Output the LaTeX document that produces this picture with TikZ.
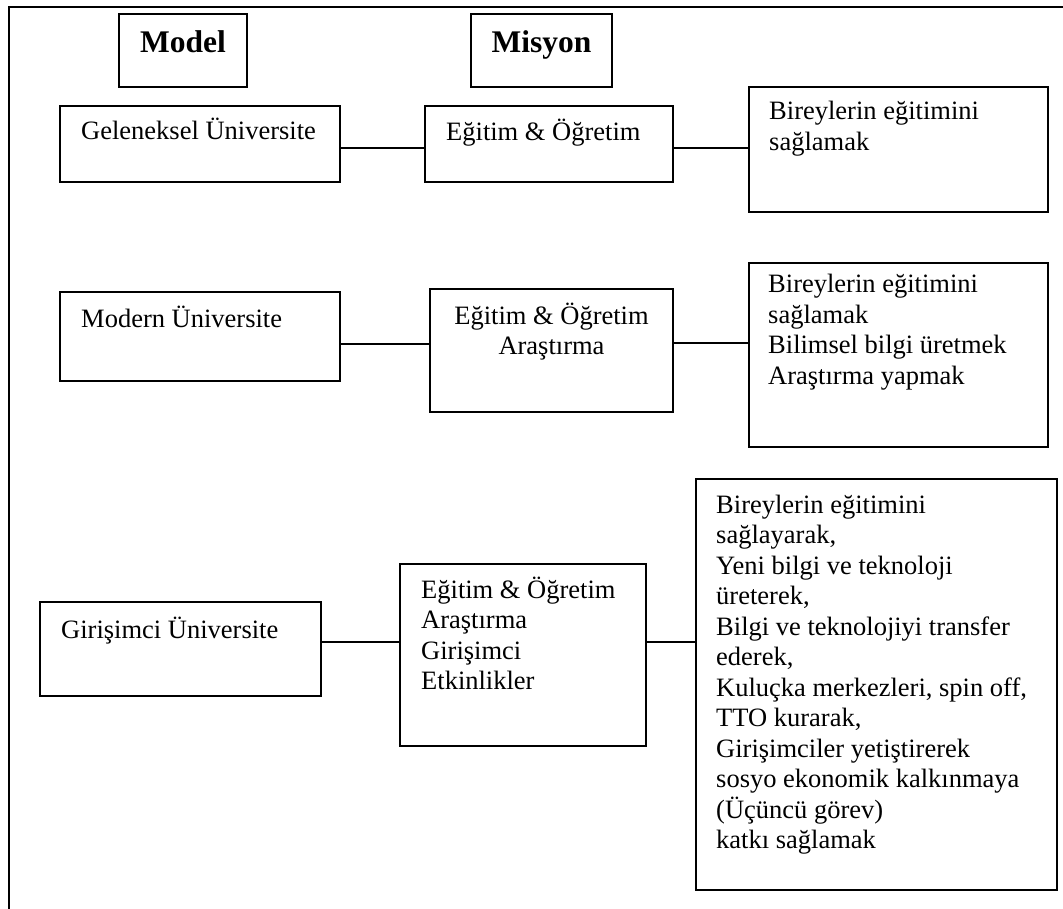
\documentclass[tikz,border=0pt]{standalone}
\usepackage{fontspec}
\setmainfont{Liberation Serif}
\begin{document}
\begin{tikzpicture}[x=1pt,y=-1pt,
  box/.style={draw, line width=1.1pt, anchor=north west, inner sep=0pt, outer sep=0pt},
  txt/.style={anchor=base west, inner sep=0pt, font=\fontsize{26.5}{30.5}\selectfont},
  ctxt/.style={anchor=base, inner sep=0pt, font=\fontsize{26.5}{30.5}\selectfont},
  head/.style={anchor=base, inner sep=0pt, font=\bfseries\fontsize{31.5}{36}\selectfont},
  conn/.style={line width=1.3pt},
  frame/.style={line width=1.6pt}]
\useasboundingbox (0,0) rectangle (1063,909);
% outer frame (top and left edges only)
\draw[frame] (1063,7) -- (9,7) -- (9,909);

% headings
\node[box, minimum width=128pt, minimum height=73pt] (model) at (119,14) {};
\node[head] (tmodel) at (183,53) {Model};
\node[box, minimum width=141pt, minimum height=73pt] (misyon) at (471,14) {};
\node[head] (tmisyon) at (541.5,53) {Misyon};

% row 1
\node[box, minimum width=280pt, minimum height=76pt] (g1) at (60,106) {};
\node[txt] (tg1) at (81,140) {Geleneksel Üniversite};
\node[box, minimum width=248pt, minimum height=76pt] (e1) at (425,106) {};
\node[txt] (te1) at (446,141) {Eğitim \& Öğretim};
\node[box, minimum width=299pt, minimum height=125pt] (b1) at (749,87) {};
\node[txt] (tb1) at (769,120) {\begin{tabular}[t]{@{}l@{}}Bireylerin eğitimini\\ sağlamak\end{tabular}};
\draw[conn] ([yshift=-4pt]g1.east) -- ([yshift=-4pt]g1.east -| e1.west);
\draw[conn] ([yshift=-4pt]e1.east) -- ([yshift=-4pt]e1.east -| b1.west);

% row 2
\node[box, minimum width=280pt, minimum height=89pt] (m2) at (60,292) {};
\node[txt] (tm2) at (81,328) {Modern Üniversite};
\node[box, minimum width=243pt, minimum height=123pt] (e2) at (430,289) {};
\node[ctxt] (te2) at (551.5,324) {\begin{tabular}[t]{@{}c@{}}Eğitim \& Öğretim\\ Araştırma\end{tabular}};
\node[box, minimum width=299pt, minimum height=184pt] (b2) at (749,263) {};
\node[txt] (tb2) at (768,293) {\begin{tabular}[t]{@{}l@{}}Bireylerin eğitimini\\ sağlamak\\ Bilimsel bilgi üretmek\\ Araştırma yapmak\end{tabular}};
\draw[conn] ([yshift=-7.5pt]m2.east) -- ([yshift=-7.5pt]m2.east -| e2.west);
\draw[conn] ([yshift=7.5pt]e2.east) -- ([yshift=7.5pt]e2.east -| b2.west);

% row 3
\node[box, minimum width=281pt, minimum height=94pt] (g3) at (40,602) {};
\node[txt] (tg3) at (61,638) {Girişimci Üniversite};
\node[box, minimum width=246pt, minimum height=182pt] (e3) at (400,564) {};
\node[txt] (te3) at (421,598) {\begin{tabular}[t]{@{}l@{}}Eğitim \& Öğretim\\ Araştırma\\ Girişimci\\ Etkinlikler\end{tabular}};
\node[box, minimum width=361pt, minimum height=411pt] (b3) at (696,479) {};
\node[txt] (tb3) at (716,513) {\begin{tabular}[t]{@{}l@{}}Bireylerin eğitimini\\ sağlayarak,\\ Yeni bilgi ve teknoloji\\ üreterek,\\ Bilgi ve teknolojiyi transfer\\ ederek,\\ Kuluçka merkezleri, spin off,\\ TTO kurarak,\\ Girişimciler yetiştirerek\\ sosyo ekonomik kalkınmaya\\ (Üçüncü görev)\\ katkı sağlamak\end{tabular}};
\draw[conn] ([yshift=7pt]g3.east) -- ([yshift=7pt]g3.east -| e3.west);
\draw[conn] ([yshift=13pt]e3.east) -- ([yshift=13pt]e3.east -| b3.west);
\end{tikzpicture}
\end{document}
